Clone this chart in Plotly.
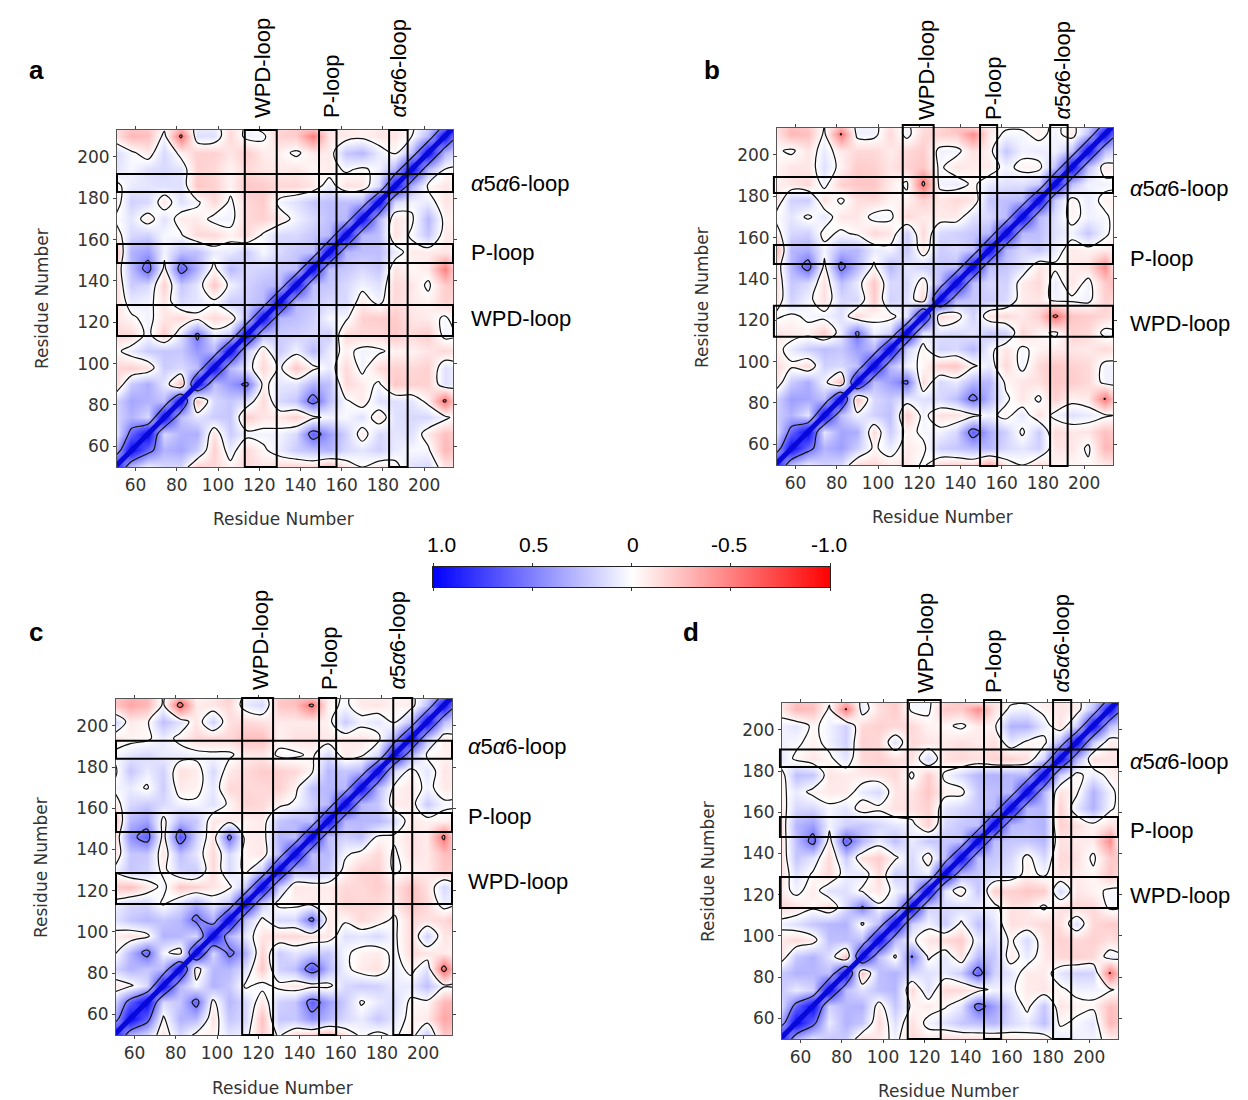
import plotly.graph_objects as go

W, H = 1248, 1100
residues = [50, 58, 66, 74, 82, 90, 98, 106, 114, 122, 130, 138, 146, 154, 162, 170, 178, 186, 194, 202, 210, 214]
tick_vals = [60, 80, 100, 120, 140, 160, 180, 200]
colorbar_vals = [1.0, 0.5, 0, -0.5, -1.0]
colorbar_text = ["1.0", "0.5", "0", "-0.5", "-1.0"]
diagonal_ends = [50, 214]

# lower triangles of the cross-correlation maps, in hundredths
corr_a = [
 [100],
 [25,100],
 [5,60,100],
 [15,30,15,100],
 [15,35,30,25,100],
 [-20,20,32,10,-25,100],
 [-15,-18,-12,20,15,25,100],
 [-5,8,20,22,22,40,28,100],
 [-15,-15,5,-20,12,55,8,20,100],
 [-10,-3,5,-10,-15,-5,-15,-10,25,100],
 [-15,8,5,-10,15,10,3,20,20,28,100],
 [-18,20,15,-18,22,10,-22,5,18,25,28,100],
 [-15,25,62,-5,62,30,-5,28,15,18,22,25,100],
 [-30,30,38,5,25,25,8,8,20,3,15,22,25,100],
 [-10,15,18,3,2,-15,-15,-5,-15,3,15,15,22,28,100],
 [0,10,-8,12,-8,-8,5,5,-15,-18,-8,5,15,25,28,100],
 [-10,18,15,-10,12,3,-15,3,-15,-20,5,12,22,25,25,28,100],
 [-5,8,10,12,12,-22,-18,-5,-22,-20,-15,-15,-10,8,-12,-10,15,100],
 [12,3,12,15,10,-18,-15,-5,-15,-10,-8,-10,-3,-8,3,-3,5,30,100],
 [15,3,-8,15,-5,-18,-18,-10,-20,-8,-5,3,-8,-8,22,28,8,-3,28,100],
 [-10,-28,-25,5,-55,12,12,-15,5,3,-18,-20,-50,-10,-8,-5,-10,-10,0,28,100],
 [-10,-22,-20,-3,-25,8,8,-12,3,-5,-15,-20,-22,-8,-8,-5,-8,-8,-3,18,60,100],
]
corr_b = [
 [100],
 [25,100],
 [8,60,100],
 [18,30,10,100],
 [15,38,35,25,100],
 [-15,20,32,5,-25,100],
 [-15,-3,-15,18,15,25,100],
 [-8,8,20,25,22,38,28,100],
 [-10,-8,-5,-20,8,55,5,18,100],
 [3,-3,3,5,12,-15,-3,-5,10,100],
 [-15,18,5,-12,15,15,-20,18,12,-15,100],
 [-18,22,15,-12,25,8,-22,15,15,-8,28,100],
 [-15,28,62,-5,58,28,-3,28,10,18,22,25,100],
 [-35,28,32,5,28,28,8,5,22,-10,20,15,25,100],
 [-8,15,18,-5,3,-3,-15,-10,18,-15,15,18,22,28,100],
 [0,10,-3,10,-10,-10,5,3,-15,-8,-8,-8,12,15,28,100],
 [-15,18,20,-12,3,-12,-15,-5,-5,-18,-10,-15,-10,22,25,28,100],
 [-5,-10,-15,5,-18,-22,-22,-8,3,-55,5,8,-3,8,12,12,20,100],
 [-3,-10,-10,12,-5,-20,-18,-10,-18,-22,3,-10,-8,-8,5,-5,-5,25,100],
 [-3,3,-10,8,-8,-15,-15,-8,-15,-20,5,5,-12,-5,22,5,8,5,25,100],
 [-8,-28,-25,3,-52,5,5,-15,5,-15,-18,-20,-45,-8,3,3,-5,5,-8,25,100],
 [-10,-25,-20,0,-25,5,5,-12,3,-12,-15,-25,-12,-8,-3,-3,-5,3,-5,15,60,100],
]
corr_c = [
 [100],
 [30,100],
 [15,62,100],
 [-10,-3,15,100],
 [15,30,22,28,100],
 [-5,28,60,5,-10,100],
 [-5,-12,-5,30,28,15,100],
 [10,22,28,22,28,58,30,100],
 [5,15,15,-3,12,30,8,22,100],
 [-20,-25,-10,5,-22,-18,-10,-3,22,100],
 [3,22,18,-5,18,20,-15,15,-5,20,100],
 [-15,22,22,-10,25,10,-15,15,-5,-10,28,100],
 [-20,42,62,-8,68,18,-12,58,-8,-8,30,25,100],
 [-30,28,38,-5,28,22,-10,-8,-5,-8,22,28,25,100],
 [-10,15,20,15,5,3,12,-3,-18,-15,-5,3,18,28,100],
 [3,8,-2,20,-8,-5,10,-15,-15,-15,-18,-5,25,28,28,100],
 [-5,22,8,18,-12,-8,15,-8,-15,-20,-18,-15,-3,28,22,28,100],
 [3,10,15,8,8,5,3,3,-8,-10,3,3,-3,15,-8,-3,15,100],
 [-8,-5,-3,8,-5,-15,-15,-15,-25,-25,-5,-12,-12,-8,-8,-10,-5,30,100],
 [20,-8,-3,25,12,-10,18,-12,-15,-12,-8,-8,-8,-5,20,5,10,-3,25,100],
 [-22,-35,-28,3,-60,-8,-10,-15,8,15,-22,-25,-55,-5,3,-8,-10,-5,-8,25,100],
 [-20,-30,-28,3,-30,-5,-8,-20,5,8,-20,-25,-20,-8,3,-8,-8,-5,-5,15,60,100],
]
corr_d = [
 [100],
 [28,100],
 [10,60,100],
 [22,8,18,100],
 [20,30,28,25,100],
 [-15,22,30,12,-25,100],
 [-8,-15,-8,25,25,25,100],
 [5,12,22,28,30,-3,28,100],
 [-15,-12,-3,-15,15,52,3,18,100],
 [-8,5,-8,12,12,-3,-10,5,18,100],
 [-15,12,-2,-15,8,10,-15,20,15,8,100],
 [-15,22,10,-15,20,-12,-20,-3,15,-8,28,100],
 [-15,25,60,-8,62,28,8,25,8,22,22,25,100],
 [-15,28,38,5,18,22,15,10,5,-18,15,22,25,100],
 [-10,15,15,3,10,-8,-3,-12,-12,-18,10,15,22,28,100],
 [-5,8,-5,-8,-8,8,15,-10,-10,-22,-5,-5,22,25,28,100],
 [-10,25,22,-10,-8,-8,-10,-15,3,-20,3,15,28,30,28,28,100],
 [10,-3,-10,-3,10,-15,-18,-12,-12,15,-12,-15,-12,-18,-18,-12,18,100],
 [5,3,-5,5,18,-18,-15,12,-15,-10,-8,-12,-8,-12,10,-3,-5,28,100],
 [5,10,-3,5,18,-15,-18,-15,-15,-5,-3,3,-8,-3,30,30,8,-12,20,100],
 [-5,-28,-25,3,-52,8,-12,-20,3,3,-22,-20,-45,-12,3,5,-5,-10,-8,25,100],
 [-8,-22,-22,-3,-25,5,-15,-20,3,3,-15,-22,-5,-10,-3,-3,-8,-10,-5,15,60,100],
]

SCALE = [[0, "#ff0000"], [0.5, "#ffffff"], [1, "#0000ff"]]
XR, YR = [51, 214], [50, 213]
ALPHA = "<i>α</i>5<i>α</i>6-loop"

panels = [
 dict(z=corr_a, rect=(117, 130, 453, 467), letter="a", lpos=(36, 70),
      cols=[(113, 128.5), (149, 157.5), (183, 192)], rows=[(113.4, 128.4), (148.7, 157.9), (183, 191.7)],
      cspan=(50, 213), rspan=(51, 214), xtitle=(283, 519), ytitle=(42, 299),
      vx=(262, 331, 398), vbottom=120, hx=469, hy=(318, 253, 183)),
 dict(z=corr_b, rect=(777, 128, 1113, 465), letter="b", lpos=(712, 70),
      cols=[(112, 127), (149.5, 157.8), (183.5, 192)], rows=[(112, 127), (147.2, 156.4), (181.6, 189.3)],
      cspan=(49.5, 214.5), rspan=(49.5, 214), xtitle=(942, 517), ytitle=(702, 298),
      vx=(926, 993, 1062), vbottom=122, hx=1128, hy=(323, 258, 188)),
 dict(z=corr_c, rect=(116, 699, 452, 1035), letter="c", lpos=(36, 632),
      cols=[(112.2, 127.2), (149.5, 157.8), (185.5, 194.7)], rows=[(113.6, 128.6), (148.5, 157.7), (184, 192.8)],
      cspan=(50, 213.5), rspan=(51, 214), xtitle=(282, 1088), ytitle=(41, 868),
      vx=(260, 329, 397), vbottom=692, hx=466, hy=(881, 816, 746)),
 dict(z=corr_d, rect=(782, 703, 1118, 1039), letter="d", lpos=(691, 632),
      cols=[(112, 128), (149, 157.3), (182.5, 191.3)], rows=[(113.6, 128.6), (148, 157.7), (182, 190.4)],
      cspan=(50, 214.5), rspan=(50, 214), xtitle=(948, 1091), ytitle=(708, 872),
      vx=(925, 993, 1061), vbottom=695, hx=1128, hy=(895, 830, 761)),
]


def full(tri):
    n = len(tri)
    return [[(tri[max(i, j)][min(i, j)]) / 100 for j in range(n)] for i in range(n)]


fig = go.Figure()
layout = dict(width=W, height=H, margin=dict(l=0, r=0, t=0, b=0), autosize=False,
              paper_bgcolor="white", plot_bgcolor="white", showlegend=False)
shapes, notes = [], []
AX = dict(tickvals=tick_vals, ticks="outside", ticklen=3, tickcolor="#444", showgrid=False, automargin=False,
          zeroline=False, showline=True, linecolor="#555", linewidth=1, mirror="ticks",
          tickfont=dict(family="DejaVu Sans", size=17, color="#333"))


def label(text, x, y, size, family="Liberation Sans", color="black", **kw):
    notes.append(dict(text=text, x=x / W, y=1 - y / H, xref="paper", yref="paper", showarrow=False,
                      font=dict(size=size, family=family, color=color), **kw))


for k, p in enumerate(panels):
    n = k + 1
    x0, y0, x1, y1 = p["rect"]
    xa, ya = f"x{n}", f"y{n}"
    z = full(p["z"])
    fig.add_trace(go.Heatmap(x=residues, y=residues, z=z, colorscale=SCALE, zmin=-1, zmax=1,
                             zsmooth="best", showscale=False, xaxis=xa, yaxis=ya))
    fig.add_trace(go.Contour(x=residues, y=residues, z=z, showscale=False, xaxis=xa, yaxis=ya,
                             autocontour=False, contours=dict(coloring="none", start=-0.5, end=0.5, size=0.5),
                             line=dict(color="#111", width=1.2)))
    fig.add_trace(go.Scatter(x=diagonal_ends, y=diagonal_ends, mode="lines", xaxis=xa, yaxis=ya,
                             line=dict(color="#0808d8", width=5)))
    layout[f"xaxis{n}"] = dict(AX, range=XR, domain=[x0 / W, x1 / W], anchor=ya)
    layout[f"yaxis{n}"] = dict(AX, range=YR, domain=[1 - y1 / H, 1 - y0 / H], anchor=xa)

    def px(r):
        return (x0 + (r - XR[0]) / (XR[1] - XR[0]) * (x1 - x0)) / W

    def py(r):
        return 1 - (y1 - (r - YR[0]) / (YR[1] - YR[0]) * (y1 - y0)) / H

    box = dict(type="rect", xref="paper", yref="paper", line=dict(color="black", width=2), fillcolor="rgba(0,0,0,0)")
    for a, b in p["cols"]:
        shapes.append(dict(box, x0=px(a), x1=px(b), y0=py(p["cspan"][0]), y1=py(p["cspan"][1])))
    for a, b in p["rows"]:
        shapes.append(dict(box, x0=px(p["rspan"][0]), x1=px(p["rspan"][1]), y0=py(a), y1=py(b)))

    label(f"<b>{p['letter']}</b>", p["lpos"][0], p["lpos"][1], 26, xanchor="center", yanchor="middle")
    label("Residue Number", p["xtitle"][0], p["xtitle"][1], 17, family="DejaVu Sans", color="#333",
          xanchor="center", yanchor="middle")
    label("Residue Number", p["ytitle"][0], p["ytitle"][1], 17, family="DejaVu Sans", color="#333",
          textangle=-90, xanchor="center", yanchor="middle")
    for text, vx, hy in zip(["WPD-loop", "P-loop", ALPHA], p["vx"], p["hy"]):
        label(text, vx, p["vbottom"], 22, textangle=-90, xanchor="center", yanchor="bottom")
        label(text, p["hx"], hy, 22, xanchor="left", yanchor="middle")

# colour bar
fig.add_trace(go.Heatmap(x=colorbar_vals, y=[0, 1], z=[colorbar_vals, colorbar_vals], colorscale=SCALE, zmin=-1,
                         zmax=1, zsmooth="best", showscale=False, xaxis="x5", yaxis="y5"))
layout["xaxis5"] = dict(domain=[433 / W, 830 / W], range=[1, -1], anchor="y5", side="top", tickvals=colorbar_vals,
                        showticklabels=False, ticks="outside", ticklen=3, tickcolor="#333", mirror="ticks",
                        showline=True, linecolor="#222", showgrid=False, zeroline=False, automargin=False)
layout["yaxis5"] = dict(domain=[1 - 587 / H, 1 - 567 / H], range=[0, 1], anchor="x5", showticklabels=False,
                        ticks="", showline=True, linecolor="#222", mirror=True, showgrid=False, zeroline=False,
                        automargin=False)
for text, lx in zip(colorbar_text, [441, 533, 633, 729, 829]):
    label(text, lx, 544, 21, xanchor="center", yanchor="middle")

layout["shapes"] = shapes
layout["annotations"] = notes
fig.update_layout(**layout)
fig.write_html("out.html", post_script="document.body.style.margin='0';", config={"displayModeBar": False})
